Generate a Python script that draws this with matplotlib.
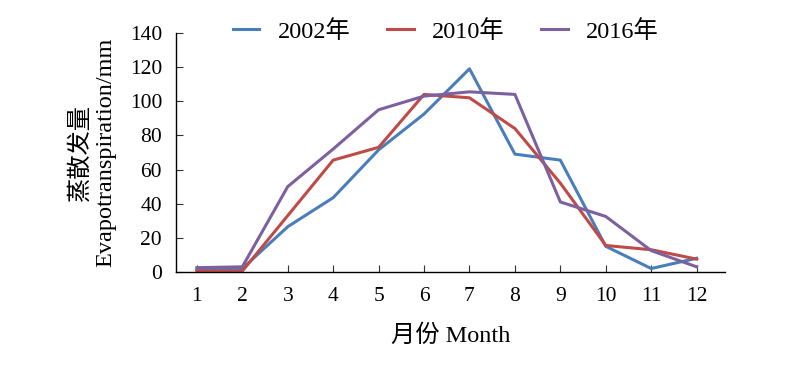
import numpy as np
import matplotlib.pyplot as plt

# datos de evapotranspiración mensual (mm)
meses = np.arange(1, 13)
etiquetas_meses = [str(m) for m in meses]
et_2002 = [1.5, 2, 26.5, 43.5, 71.5, 92.5, 119, 69, 65.5, 15, 2, 8]
et_2010 = [0.5, 0.5, 33, 65.5, 73, 104, 102, 84, 52, 15.5, 13, 7.5]
et_2016 = [2.5, 3, 50, 72, 95, 103, 105.5, 104, 41, 32.5, 12.5, 3]

plt.rcParams['font.family'] = ['Liberation Serif', 'Noto Sans CJK SC']
plt.rcParams['font.size'] = 15.5

fig = plt.figure(figsize=(8, 3.66), dpi=100)
ax = fig.add_axes([0.22, 0.257, 0.686, 0.653])

ax.plot(meses, et_2002, color='#4a7ebb', lw=2.2, label='2002年')
ax.plot(meses, et_2010, color='#be4b48', lw=2.2, label='2010年')
ax.plot(meses, et_2016, color='#7d60a0', lw=2.2, label='2016年')

ax.set_xlim(0.54, 12.62)
ax.set_ylim(0, 140)
ax.set_yticks(np.arange(0, 141, 20))
ax.set_xticks(meses)
ax.set_xticklabels(etiquetas_meses)
ax.tick_params(direction='in', length=5, width=0.8, color='#333333', pad=10)
ax.tick_params(axis='x', pad=11)
for lado in ['top', 'right']:
    ax.spines[lado].set_visible(False)
for lado in ['left', 'bottom']:
    ax.spines[lado].set_linewidth(1.0)

ax.set_xlabel('月份 Month', labelpad=13, fontsize=17.5)
ax.set_ylabel('蒸散发量\nEvapotranspiration/mm', labelpad=10, linespacing=1.2, fontsize=17.5)

fig.legend(loc='upper center', bbox_to_anchor=(0.557, 1.005), ncol=3, frameon=False,
           handlelength=1.1, handletextpad=0.75, columnspacing=1.5, fontsize=17.5)

fig.savefig('out.png', dpi=100)
